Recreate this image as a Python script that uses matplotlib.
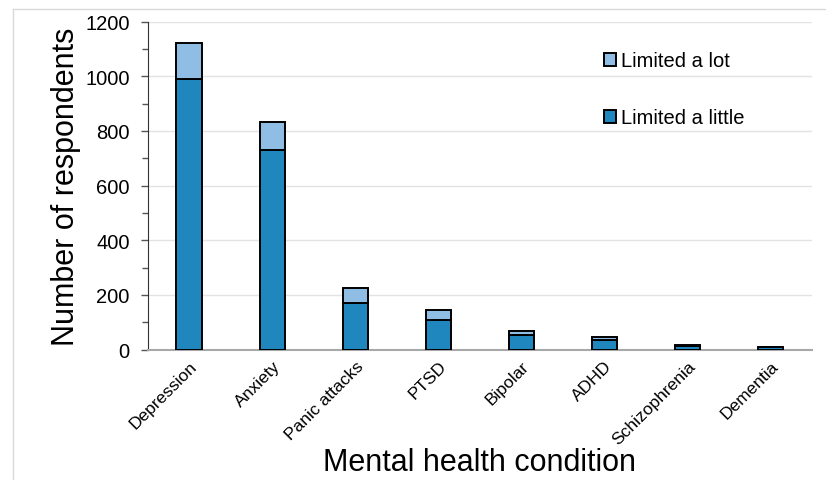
import numpy as np
import matplotlib
matplotlib.use('Agg')
import matplotlib.pyplot as plt
from matplotlib.lines import Line2D
from matplotlib.ticker import MultipleLocator

conditions = ['Depression', 'Anxiety', 'Panic attacks', 'PTSD', 'Bipolar',
              'ADHD', 'Schizophrenia', 'Dementia']
limited_little = [990, 730, 172, 110, 55, 37, 12, 8]
limited_lot = [130, 104, 53, 36, 12, 8, 4, 2]

plt.rcParams['font.family'] = ['Liberation Sans', 'DejaVu Sans']

fig = plt.figure(figsize=(8.26, 4.81), dpi=100)
ax = fig.add_axes([0.179, 0.271, 0.804, 0.682])

x = np.arange(len(conditions))
dark = '#1f87bd'
light = '#8fbde3'
ax.bar(x, limited_little, width=0.31, color=dark, edgecolor='black', linewidth=1.4,
       label='Limited a little', zorder=3)
ax.bar(x, limited_lot, width=0.31, bottom=limited_little, color=light,
       edgecolor='black', linewidth=1.4, label='Limited a lot', zorder=3)

ax.set_xlim(-0.5, len(conditions) - 0.5)
ax.set_ylim(0, 1200)
ax.yaxis.set_major_locator(MultipleLocator(200))
ax.yaxis.set_minor_locator(MultipleLocator(100))
ax.grid(axis='y', color='#e3e3e3', linewidth=1, zorder=0)

ax.set_xticks(x)
ax.set_xticklabels(conditions, rotation=45, ha='right', rotation_mode='anchor', fontsize=12.5)
ax.tick_params(axis='x', length=0, pad=6)
ax.tick_params(axis='y', which='major', labelsize=14.5, length=5, width=1, color='#555555',
               direction='out', pad=8)
ax.tick_params(axis='y', which='minor', length=4, width=1, color='#555555', direction='out')

for s in ['top', 'right']:
    ax.spines[s].set_visible(False)
ax.spines['left'].set_color('#333333')
ax.spines['bottom'].set_color('#a8a8a8')
ax.spines['bottom'].set_linewidth(1.5)

ax.set_ylabel('Number of respondents', fontsize=22, labelpad=3)
ax.set_xlabel('Mental health condition', fontsize=22, labelpad=0)

handles, labels = ax.get_legend_handles_labels()
ax.legend(handles[::-1], labels[::-1], loc='upper left', bbox_to_anchor=(0.66, 0.965),
          frameon=False, fontsize=14.5, handlelength=0.6, handleheight=0.6,
          handletextpad=0.25, labelspacing=1.9)

# light frame around the figure
fig.add_artist(Line2D([13 / 826, 13 / 826], [0, 1 - 10 / 481], color='#d9d9d9', lw=1,
                      transform=fig.transFigure))
fig.add_artist(Line2D([13 / 826, 1], [1 - 10 / 481, 1 - 10 / 481], color='#d9d9d9', lw=1,
                      transform=fig.transFigure))

fig.savefig('out.png', dpi=100)
